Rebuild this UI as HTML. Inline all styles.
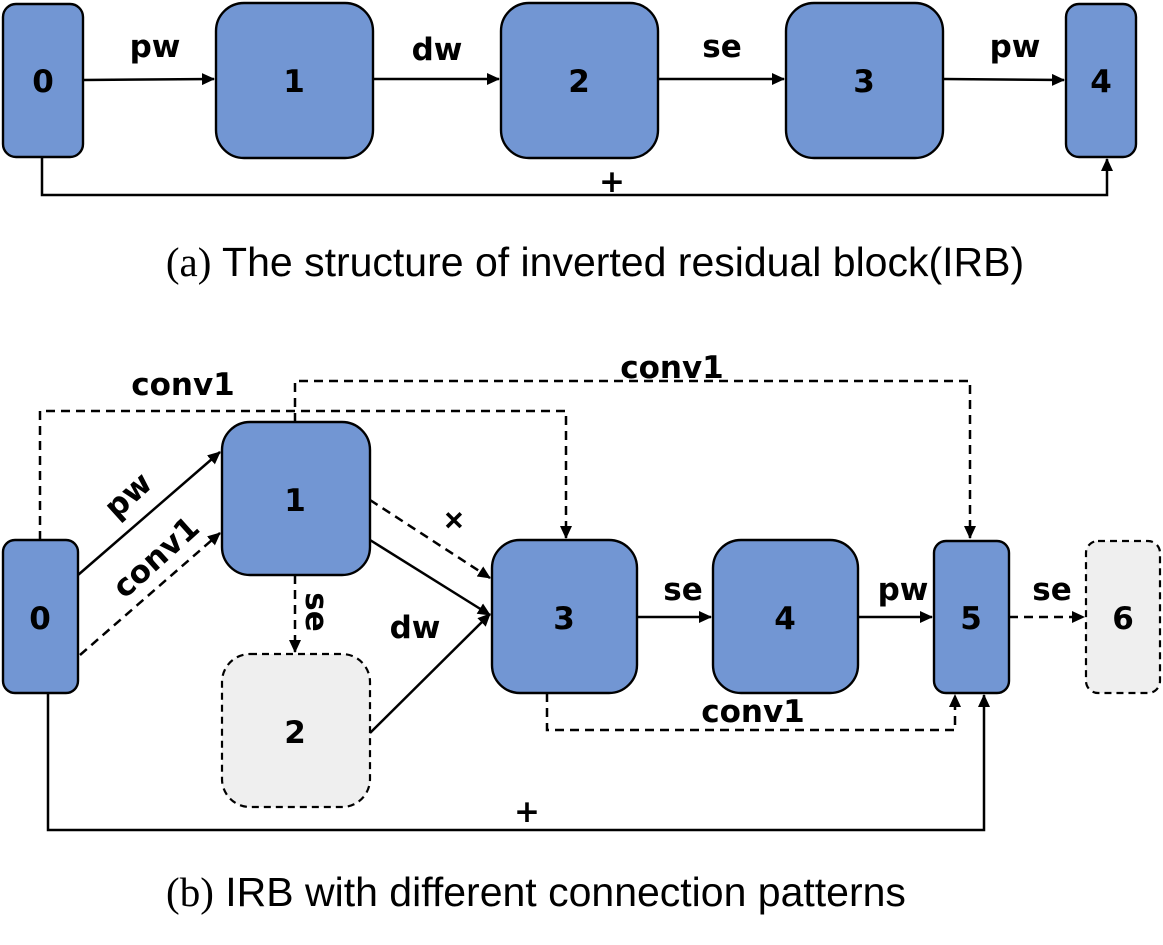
<!DOCTYPE html>
<html><head><meta charset="utf-8"><style>
html,body{margin:0;padding:0;background:#fff;}
svg{display:block;}
.b{fill:#7296d3;stroke:#000;stroke-width:2.4;}
.g{fill:#efefef;stroke:#000;stroke-width:2.2;stroke-dasharray:7,5;}
.l{stroke:#000;stroke-width:2.5;fill:none;}
.d{stroke:#000;stroke-width:2.5;fill:none;stroke-dasharray:9,6;}
.n{font-family:"DejaVu Sans","Liberation Sans",sans-serif;font-weight:bold;font-size:31px;text-anchor:middle;}
.t{font-family:"DejaVu Sans","Liberation Sans",sans-serif;font-weight:bold;font-size:31px;text-anchor:middle;}
.c{font-family:"Liberation Sans",sans-serif;font-size:41px;text-anchor:middle;}
</style></head><body>
<svg width="1163" height="945" viewBox="0 0 1163 945" xmlns="http://www.w3.org/2000/svg">
<defs><marker id="a" markerWidth="13" markerHeight="12" refX="12" refY="6" orient="auto" markerUnits="userSpaceOnUse"><path d="M0,0 L13,6 L0,12 z"/></marker></defs>
<!-- (a) -->
<rect class="b" x="3" y="4" width="80" height="153" rx="13"/>
<rect class="b" x="216" y="3" width="157" height="155" rx="28"/>
<rect class="b" x="501" y="3" width="157" height="155" rx="28"/>
<rect class="b" x="786" y="3" width="157" height="155" rx="28"/>
<rect class="b" x="1066" y="4" width="70" height="153" rx="13"/>
<text class="n" x="43" y="92">0</text><text class="n" x="294" y="92">1</text><text class="n" x="579" y="92">2</text><text class="n" x="864" y="92">3</text><text class="n" x="1101" y="92">4</text>
<line class="l" x1="83" y1="80" x2="214" y2="79" marker-end="url(#a)"/>
<line class="l" x1="373" y1="79" x2="499" y2="79" marker-end="url(#a)"/>
<line class="l" x1="658" y1="79" x2="784" y2="79" marker-end="url(#a)"/>
<line class="l" x1="943" y1="79" x2="1064" y2="80" marker-end="url(#a)"/>
<text class="t" x="155" y="57">pw</text><text class="t" x="437" y="60">dw</text><text class="t" x="722" y="57">se</text><text class="t" x="1015" y="57">pw</text>
<path class="l" d="M42,157 V195 H1107 V159" marker-end="url(#a)"/>
<text class="t" x="612" y="192">+</text>
<text class="c" x="595" y="276"><tspan font-family="Liberation Serif">(a)</tspan> The structure of inverted residual block(IRB)</text>
<!-- (b) -->
<path class="d" d="M40,540 V411 H566 V538" marker-end="url(#a)"/>
<path class="d" d="M295,422 V381 H970 V538" marker-end="url(#a)"/>
<rect class="b" x="3" y="540" width="75" height="153" rx="12"/>
<rect class="b" x="222" y="422" width="148" height="153" rx="28"/>
<rect class="g" x="222" y="654" width="148" height="153" rx="28"/>
<rect class="b" x="492" y="540" width="145" height="153" rx="28"/>
<rect class="b" x="713" y="540" width="145" height="153" rx="28"/>
<rect class="b" x="934" y="541" width="75" height="152" rx="12"/>
<rect class="g" x="1086" y="541" width="74" height="152" rx="12"/>
<text class="n" x="40" y="629">0</text><text class="n" x="295" y="511">1</text><text class="n" x="295" y="743">2</text><text class="n" x="564" y="629">3</text><text class="n" x="785" y="629">4</text><text class="n" x="971" y="629">5</text><text class="n" x="1123" y="629">6</text>
<line class="l" x1="78" y1="575" x2="220" y2="452" marker-end="url(#a)"/>
<line class="d" x1="80" y1="655" x2="220" y2="533" marker-end="url(#a)"/>
<line class="d" x1="370" y1="500" x2="490" y2="578" marker-end="url(#a)"/>
<line class="l" x1="370" y1="540" x2="490" y2="615" marker-end="url(#a)"/>
<line class="l" x1="370" y1="733" x2="490" y2="614" marker-end="url(#a)"/>
<line class="d" x1="295" y1="575" x2="295" y2="652" marker-end="url(#a)"/>
<line class="l" x1="637" y1="617" x2="711" y2="617" marker-end="url(#a)"/>
<line class="l" x1="858" y1="617" x2="932" y2="617" marker-end="url(#a)"/>
<line class="d" x1="1009" y1="617" x2="1084" y2="617" marker-end="url(#a)"/>
<path class="d" d="M547,693 V730 H955 V695" marker-end="url(#a)"/>
<path class="l" d="M48,693 V830 H984 V695" marker-end="url(#a)"/>
<text class="t" x="183" y="395">conv1</text>
<text class="t" x="672" y="378">conv1</text>
<text class="t" x="753" y="722">conv1</text>
<text class="t" transform="translate(135,503) rotate(-42)">pw</text>
<text class="t" transform="translate(163,565) rotate(-42)">conv1</text>
<text class="t" transform="translate(447,527) rotate(45)">+</text>
<text class="t" transform="translate(306,612) rotate(90)">se</text>
<text class="t" x="415" y="638">dw</text>
<text class="t" x="683" y="600">se</text>
<text class="t" x="903" y="600">pw</text>
<text class="t" x="1052" y="600">se</text>
<text class="t" x="527" y="822">+</text>
<text class="c" x="536" y="906"><tspan font-family="Liberation Serif">(b)</tspan> IRB with different connection patterns</text>
</svg>
</body></html>
